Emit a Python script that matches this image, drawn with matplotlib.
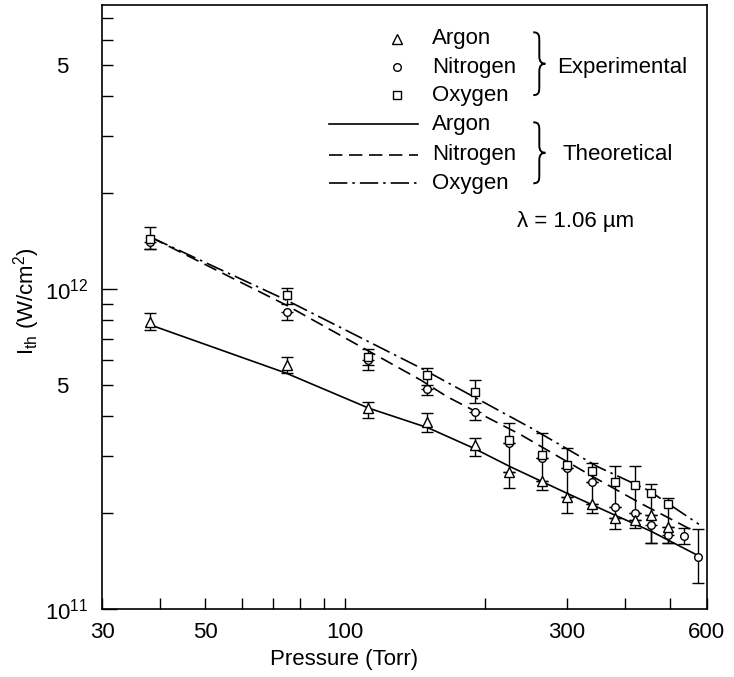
import numpy as np
import matplotlib.pyplot as plt
from matplotlib.path import Path
from matplotlib.patches import PathPatch
from matplotlib.ticker import FixedLocator, FixedFormatter, NullFormatter

plt.rcParams['font.family'] = ['Liberation Sans', 'DejaVu Sans']
plt.rcParams['mathtext.fontset'] = 'custom'
plt.rcParams['mathtext.rm'] = 'Liberation Sans'
plt.rcParams['mathtext.it'] = 'Liberation Sans:italic'

# experimental data (pressure in Torr, threshold in units of 1e11 W/cm^2)
p_exp = np.array([38, 75, 112, 150, 190, 225, 265, 300, 340, 380, 420, 455, 495])
p_n2 = np.array([38, 75, 112, 150, 190, 225, 265, 300, 340, 380, 420, 455, 495, 535, 574])

ar_val = np.array([7.9, 5.8, 4.25, 3.84, 3.25, 2.68, 2.51, 2.24, 2.13, 1.92, 1.90, 1.97, 1.80])
ar_hi = np.array([8.41, 6.13, 4.43, 4.10, 3.42, 2.68, 2.51, 2.24, 2.13, 1.92, 1.90, 1.97, 1.80])
ar_lo = np.array([7.44, 5.46, 3.95, 3.57, 3.01, 2.39, 2.35, 2.00, 2.00, 1.78, 1.79, 1.61, 1.61])

n2_val = np.array([14.0, 8.5, 6.0, 4.87, 4.13, 3.3, 2.97, 2.76, 2.49, 2.08, 2.00, 1.83, 1.70, 1.69, 1.45])
n2_hi = np.array([14.0, 8.5, 6.0, 4.87, 4.13, 3.3, 2.97, 2.76, 2.49, 2.08, 2.00, 1.83, 1.70, 1.79, 1.78])
n2_lo = np.array([13.3, 8.0, 5.58, 4.66, 3.89, 2.68, 2.51, 2.24, 2.13, 1.92, 1.90, 1.61, 1.61, 1.60, 1.21])

o2_val = np.array([14.3, 9.6, 6.15, 5.4, 4.77, 3.37, 3.03, 2.82, 2.70, 2.49, 2.44, 2.30, 2.13])
o2_hi = np.array([15.6, 10.1, 6.5, 5.66, 5.2, 3.81, 3.55, 3.19, 2.86, 2.80, 2.80, 2.46, 2.22])
o2_lo = np.array([13.3, 9.0, 5.8, 5.0, 4.4, 3.3, 2.97, 2.76, 2.49, 2.08, 2.00, 1.97, 1.80])

# theoretical curves
p_th_ar = np.array([38.2, 74.6, 112.5, 151, 189, 227, 300, 379, 455, 574])
th_ar = np.array([7.71, 5.46, 4.24, 3.68, 3.18, 2.78, 2.30, 1.97, 1.75, 1.47])
p_th_n2 = np.array([38.2, 74.6, 145.5, 166, 239, 343, 432, 568])
th_n2 = np.array([14.5, 8.91, 5.19, 4.60, 3.50, 2.58, 2.14, 1.74])
p_th_o2 = np.array([38.2, 74.6, 145.5, 251, 350, 449, 577])
th_o2 = np.array([14.5, 9.24, 5.66, 3.68, 2.78, 2.35, 1.84])

scale = 1e11

fig = plt.figure(figsize=(7.34, 6.77), dpi=100)
ax = fig.add_axes([0.139, 0.1004, 0.824, 0.892])
ax.set_xscale('log')
ax.set_yscale('log')

dash = (0, (8, 4))
dashdot = (0, (11, 3, 1.5, 3))

ax.plot(p_th_ar, th_ar * scale, color='k', lw=1.2, ls='-', zorder=2)
ax.plot(p_th_n2, th_n2 * scale, color='k', lw=1.2, ls=dash, zorder=2)
ax.plot(p_th_o2, th_o2 * scale, color='k', lw=1.2, ls=dashdot, zorder=2)

series = [
    (p_n2, n2_val, n2_lo, n2_hi, 'o', 5.5),
    (p_exp, o2_val, o2_lo, o2_hi, 's', 6),
    (p_exp, ar_val, ar_lo, ar_hi, '^', 7),
]
for p, v, lo, hi, m, ms in series:
    ax.errorbar(p, v * scale, yerr=[(v - lo) * scale, (hi - v) * scale], fmt='none',
                ecolor='k', elinewidth=1, capsize=4, capthick=1, zorder=3)
for p, v, lo, hi, m, ms in series:
    ax.plot(p, v * scale, ls='none', marker=m, ms=ms, mfc='white', mec='k', mew=1, zorder=4)

ax.set_xlim(30, 600)
ax.set_ylim(1e11, 7.7e12)

ax.xaxis.set_major_locator(FixedLocator([30, 50, 100, 300, 600]))
ax.xaxis.set_major_formatter(FixedFormatter(['30', '50', '100', '300', '600']))
ax.xaxis.set_minor_locator(FixedLocator([40, 60, 70, 80, 90, 200, 400, 500]))
ax.xaxis.set_minor_formatter(NullFormatter())

ymin = [k * 1e11 for k in range(2, 10)] + [k * 1e12 for k in range(2, 8)]
ymin_lab = ['5' if k == 5 else '' for k in range(2, 10)] + ['5' if k == 5 else '' for k in range(2, 8)]
ax.yaxis.set_major_locator(FixedLocator([1e11, 1e12]))
ax.yaxis.set_major_formatter(FixedFormatter([r'$10^{11}$', r'$10^{12}$']))
ax.yaxis.set_minor_locator(FixedLocator(ymin))
ax.yaxis.set_minor_formatter(FixedFormatter(ymin_lab))

ax.tick_params(axis='x', which='both', direction='in', length=8, width=1, pad=9, labelsize=16)
ax.tick_params(axis='y', which='major', direction='in', length=11, width=1, pad=10, labelsize=16)
ax.tick_params(axis='y', which='minor', direction='in', length=8, width=1, pad=24, labelsize=16)
for s in ax.spines.values():
    s.set_linewidth(1.2)

ax.set_xlabel('Pressure (Torr)', fontsize=16)
ax.xaxis.label.set_va('center')
ax.xaxis.set_label_coords(0.40, -0.084)
ax.set_ylabel(r'I$_{\rm th}$ (W/cm$^2$)', fontsize=16)
ax.yaxis.label.set_va('center')
ax.yaxis.set_label_coords(-0.125, 0.51)

# legend drawn by hand
tr = ax.transAxes
mx, tx = 0.487, 0.546
rows = [0.944, 0.897, 0.851, 0.803, 0.752, 0.705]
names = ['Argon', 'Nitrogen', 'Oxygen', 'Argon', 'Nitrogen', 'Oxygen']
for m, ms, y in zip(['^', 'o', 's'], [6.5, 5.5, 6], rows[:3]):
    ax.plot([mx], [y], transform=tr, ls='none', marker=m, ms=ms, mfc='white', mec='k', mew=1, clip_on=False)
for ls, y in zip(['-', dash, dashdot], rows[3:]):
    ax.plot([0.375, 0.523], [y, y], transform=tr, color='k', lw=1.2, ls=ls, clip_on=False)
for name, y in zip(names, rows):
    ax.text(tx, y, name, transform=tr, fontsize=16, va='center', ha='left')


def brace(x, y0, y1, w):
    h = y1 - y0
    ym = (y0 + y1) / 2
    xm = x + w / 2
    verts = [(x, y1), (xm, y1), (xm, y1 - 0.06 * h), (xm, y1 - 0.14 * h),
             (xm, ym + 0.12 * h),
             (xm, ym + 0.03 * h), (x + 0.7 * w, ym), (x + w, ym),
             (x + 0.7 * w, ym), (xm, ym - 0.03 * h), (xm, ym - 0.12 * h),
             (xm, y0 + 0.14 * h),
             (xm, y0 + 0.06 * h), (xm, y0), (x, y0)]
    codes = [Path.MOVETO, Path.CURVE4, Path.CURVE4, Path.CURVE4, Path.LINETO,
             Path.CURVE4, Path.CURVE4, Path.CURVE4, Path.CURVE4, Path.CURVE4, Path.CURVE4,
             Path.LINETO, Path.CURVE4, Path.CURVE4, Path.CURVE4]
    ax.add_patch(PathPatch(Path(verts, codes), transform=tr, fill=False, lw=1.4, clip_on=False))


brace(0.713, 0.851, 0.955, 0.02)
brace(0.713, 0.705, 0.806, 0.02)
ax.text(0.752, 0.897, 'Experimental', transform=tr, fontsize=16, va='center', ha='left')
ax.text(0.761, 0.752, 'Theoretical', transform=tr, fontsize=16, va='center', ha='left')
ax.text(0.686, 0.641, 'λ = 1.06 µm', transform=tr, fontsize=16, va='center', ha='left')

fig.savefig('out.png', dpi=100)
